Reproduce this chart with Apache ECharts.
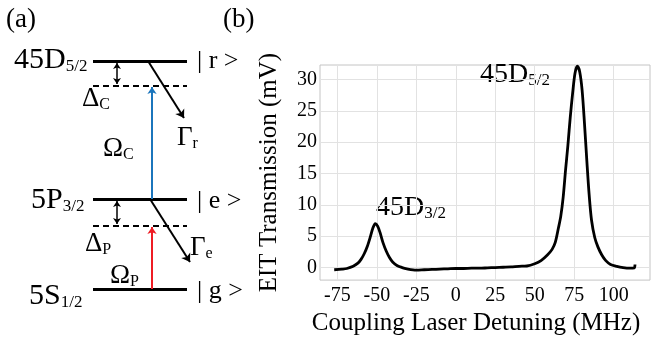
<!DOCTYPE html>
<html>
<head>
<meta charset="utf-8">
<script src="https://cdn.jsdelivr.net/npm/echarts@6/dist/echarts.min.js"></script>
<style>
  html, body { margin: 0; padding: 0; background: #fff; }
  #chart { width: 661px; height: 341px; }
</style>
</head>
<body>
<div id="chart"></div>
<script>
// panel (b): EIT spectrum, detuning (MHz) vs transmission (mV)
const detuning = [-77, -72, -69, -65, -62, -60, -58, -56, -54, -52.5, -51, -49.5, -48, -46, -44, -42, -40, -37, -34, -31, -25,
  -20, -15, -10, -5, 0, 5, 10, 15, 20, 25, 30, 35, 40, 45, 50, 54, 58, 61, 63, 65, 66.5, 68, 69.5, 71, 72.5, 74, 75.5, 77,
  78.5, 80, 81.5, 83, 84.5, 86, 88, 90, 92.5, 95, 98, 102, 106, 110, 113, 113.5];
const transmission = [-0.35, -0.25, -0.15, 0.2, 0.7, 1.3, 2.2, 3.4, 5.0, 6.3, 7.0, 6.6, 5.6, 3.9, 2.6, 1.6, 0.9, 0.3, 0, -0.2, -0.4,
  -0.35, -0.3, -0.25, -0.2, -0.15, -0.15, -0.1, -0.1, -0.05, 0, 0.05, 0.1, 0.2, 0.25, 0.6, 1.1, 2.0, 2.9, 4.0, 6.3, 8.2, 11.2, 15.5,
  19.5, 24.0, 27.8, 31.0, 32.1, 31.2, 28.3, 23.0, 17.0, 11.5, 7.5, 4.8, 3.3, 2.0, 1.1, 0.5, 0.2, 0.0, -0.1, -0.05, 0.5];
const xTicks = [-75, -50, -25, 0, 25, 50, 75, 100];
const yTicks = [0, 5, 10, 15, 20, 25, 30];

// panel (a): level scheme in diagram units (y grows downward)
const levels = [61, 199, 289];          // |r>, |e>, |g>
const detunedLevels = [86, 226];        // virtual levels below |r>, |e>
const levelSpan = [93, 187];
const couplingArrow = [[152, 199], [152, 87]];
const probeArrow = [[152, 289], [152, 227]];
const decayArrows = [[[148, 61], [184, 118]], [[150, 199], [190, 262]]];
const detuneArrows = [[[117, 63], [117, 84]], [[117, 201], [117, 224]]];

const serif = 'Liberation Serif';

const chart = echarts.init(document.getElementById('chart'));

// text with an optional subscript; the subscript sits at the bottom of the line box
function txt(x, y, main, sub, size, subSize, drop) {
  const rich = {
    m: { fontFamily: serif, fontSize: size, lineHeight: size, color: '#000' },
    s: { fontFamily: serif, fontSize: subSize, lineHeight: Math.max(2, size - 2 * drop), verticalAlign: 'bottom', color: '#000' }
  };
  return {
    type: 'text', x: x, y: y,
    style: { text: sub ? '{m|' + main + '}{s|' + sub + '}' : '{m|' + main + '}', rich: rich,
             verticalAlign: 'middle', align: 'left' }
  };
}

const option = {
  animation: false,
  backgroundColor: '#fff',
  textStyle: { fontFamily: serif },
  grid: [
    { left: 320, top: 65, right: 11, bottom: 57, show: true, borderColor: '#c4c4c4', borderWidth: 1 },
    { left: 0, top: 0, width: 250, height: 341, show: false }
  ],
  xAxis: [
    {
      type: 'value', min: -86, max: 123, gridIndex: 0,
      name: 'Coupling Laser Detuning (MHz)', nameLocation: 'middle', nameGap: 28,
      nameTextStyle: { fontFamily: serif, fontSize: 25, color: '#000', padding: [0, 18, 0, 0] },
      axisLine: { show: false },
      axisTick: { show: false, customValues: xTicks },
      axisLabel: { customValues: xTicks, fontFamily: serif, fontSize: 20, color: '#000', margin: 6 },
      splitLine: { show: true, lineStyle: { color: '#e2e2e2', width: 1 } }
    },
    { type: 'value', min: 0, max: 250, gridIndex: 1, show: false }
  ],
  yAxis: [
    {
      type: 'value', min: -2, max: 32.3, gridIndex: 0,
      name: 'EIT Transmission (mV)', nameLocation: 'middle', nameGap: 38,
      nameTextStyle: { fontFamily: serif, fontSize: 25, color: '#000' },
      axisLine: { show: false },
      axisTick: { show: false, customValues: yTicks },
      axisLabel: { customValues: yTicks, fontFamily: serif, fontSize: 20, color: '#000', margin: 3 },
      splitLine: { show: true, lineStyle: { color: '#e2e2e2', width: 1 } }
    },
    { type: 'value', min: 0, max: 341, inverse: true, gridIndex: 1, show: false }
  ],
  series: [
    {
      type: 'line', xAxisIndex: 0, yAxisIndex: 0,
      data: detuning.map((d, i) => [d, transmission[i]]),
      showSymbol: false, smooth: 0.3,
      lineStyle: { color: '#000', width: 2.8 }
    },
    {
      type: 'lines', coordinateSystem: 'cartesian2d', xAxisIndex: 1, yAxisIndex: 1,
      data: levels.map(y => ({ coords: [[levelSpan[0], y], [levelSpan[1], y]] })),
      lineStyle: { color: '#000', width: 3, opacity: 1 }, symbol: 'none'
    },
    {
      type: 'lines', coordinateSystem: 'cartesian2d', xAxisIndex: 1, yAxisIndex: 1,
      data: detunedLevels.map(y => ({ coords: [[levelSpan[0], y], [levelSpan[1], y]] })),
      lineStyle: { color: '#000', width: 2, type: [6, 4], opacity: 1 }, symbol: 'none'
    },
    {
      type: 'lines', coordinateSystem: 'cartesian2d', xAxisIndex: 1, yAxisIndex: 1,
      data: [{ coords: couplingArrow }],
      lineStyle: { color: '#1b75bc', width: 2, opacity: 1 }, symbol: ['none', 'arrow'], symbolSize: 7
    },
    {
      type: 'lines', coordinateSystem: 'cartesian2d', xAxisIndex: 1, yAxisIndex: 1,
      data: [{ coords: probeArrow }],
      lineStyle: { color: '#ee1c24', width: 2, opacity: 1 }, symbol: ['none', 'arrow'], symbolSize: 7
    },
    {
      type: 'lines', coordinateSystem: 'cartesian2d', xAxisIndex: 1, yAxisIndex: 1,
      data: decayArrows.map(c => ({ coords: c })),
      lineStyle: { color: '#000', width: 2, opacity: 1 }, symbol: ['none', 'arrow'], symbolSize: 8
    },
    {
      type: 'lines', coordinateSystem: 'cartesian2d', xAxisIndex: 1, yAxisIndex: 1,
      data: detuneArrows.map(c => ({ coords: c })),
      lineStyle: { color: '#000', width: 1.5, opacity: 1 }, symbol: ['arrow', 'arrow'], symbolSize: 6
    }
  ],
  graphic: [
    txt(6, 20, '(a)', null, 27, 0, 0),
    txt(223, 20, '(b)', null, 27, 0, 0),
    txt(14, 60, '45D', '5/2', 30, 17, 4),
    txt(31, 200, '5P', '3/2', 30, 17, 4),
    txt(29, 296, '5S', '1/2', 30, 17, 4),
    txt(197, 61, '| r >', null, 26, 0, 0),
    txt(197, 201, '| e >', null, 26, 0, 0),
    txt(197, 291, '| g >', null, 26, 0, 0),
    txt(82, 99, 'Δ', 'C', 27, 16, 4),
    txt(85, 244, 'Δ', 'P', 27, 16, 4),
    txt(103, 149, 'Ω', 'C', 27, 16, 3),
    txt(110, 276, 'Ω', 'P', 27, 16, 3),
    txt(177, 138, 'Γ', 'r', 27, 16, 4),
    txt(190, 248, 'Γ', 'e', 27, 16, 4),
    txt(480, 75, '45D', '5/2', 28, 17, 4),
    txt(376, 208, '45D', '3/2', 28, 17, 5)
  ]
};

chart.setOption(option);
</script>
</body>
</html>
